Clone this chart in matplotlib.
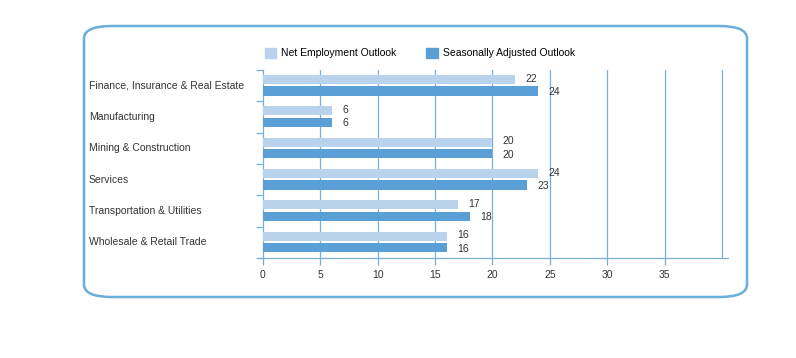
import numpy as np
import matplotlib.pyplot as plt
from matplotlib.patches import FancyBboxPatch, Patch
from matplotlib.transforms import blended_transform_factory

plt.rcParams['font.family'] = ['Liberation Sans', 'DejaVu Sans']

# data
categories = ['Finance, Insurance & Real Estate', 'Manufacturing', 'Mining & Construction',
              'Services', 'Transportation & Utilities', 'Wholesale & Retail Trade']
net_outlook = [22, 6, 20, 24, 17, 16]
adj_outlook = [24, 6, 20, 23, 18, 16]
x_ticks = [0, 5, 10, 15, 20, 25, 30, 35]

light = '#b9d3ec'
dark = '#5a9fd5'
line_col = '#78b0dc'
text_col = '#333333'
fs = 7.5

fig = plt.figure(figsize=(7.96, 3.58), dpi=100)
fig.patch.set_facecolor('white')

# rounded frame around the whole chart
box = FancyBboxPatch((84 / 796, 1 - 297 / 358), (747 - 84) / 796, (297 - 26) / 358,
                     boxstyle='round,pad=0,rounding_size=0.035', transform=fig.transFigure,
                     facecolor='none', edgecolor='#6aaedc', linewidth=1.8)
fig.patches.append(box)

ax = fig.add_axes([258.4 / 796, 1 - 258 / 358, (727.7 - 258.4) / 796, (258 - 70) / 358])
y = np.arange(len(categories))
bh = 0.29
ax.barh(y - 0.2, net_outlook, height=bh, color=light, zorder=3)
ax.barh(y + 0.17, adj_outlook, height=bh, color=dark, zorder=3)

for i in range(len(categories)):
    ax.text(net_outlook[i] + 0.9, y[i] - 0.22, str(net_outlook[i]), va='center', ha='left',
            fontsize=fs, color=text_col)
    ax.text(adj_outlook[i] + 0.9, y[i] + 0.2, str(adj_outlook[i]), va='center', ha='left',
            fontsize=fs, color=text_col)

ax.set_xlim(-0.4, 40.5)
ax.set_ylim(len(categories) - 0.5, -0.5)

# vertical grid lines
for gx in [5, 10, 15, 20, 25, 30, 35, 40]:
    ax.axvline(gx, color=line_col, linewidth=0.9, zorder=1)

# category labels, left aligned inside the frame
trans = blended_transform_factory(fig.transFigure, ax.transData)
for i, cat in enumerate(categories):
    ax.text(89 / 796, y[i], cat, transform=trans, ha='left', va='center',
            fontsize=fs, color=text_col)

ax.set_xticks(x_ticks)
ax.set_xticklabels([str(t) for t in x_ticks])
ax.set_yticks([])
ax.set_yticks(np.arange(-0.5, len(categories), 1.0), minor=True)
ax.tick_params(axis='y', which='minor', length=5, color=line_col, width=0.9)
ax.tick_params(axis='x', length=5, color=line_col, width=0.9, labelsize=fs,
               labelcolor=text_col, pad=4)

for s in ['top', 'right']:
    ax.spines[s].set_visible(False)
ax.spines['left'].set_bounds(-0.5, len(categories) - 0.5)
ax.spines['left'].set_position(('data', 0))
ax.spines['left'].set_color(line_col)
ax.spines['bottom'].set_color(line_col)
ax.spines['left'].set_linewidth(0.9)
ax.spines['bottom'].set_linewidth(0.9)

handles = [Patch(color=light, label='Net Employment Outlook'),
           Patch(color=dark, label='Seasonally Adjusted Outlook')]
fig.legend(handles=handles, loc='center', bbox_to_anchor=(420 / 796, 1 - 53 / 358), ncol=2,
           frameon=False, fontsize=fs, handlelength=1.1, handleheight=1.1,
           handletextpad=0.5, columnspacing=2.85)

plt.savefig('out.png', dpi=100)
